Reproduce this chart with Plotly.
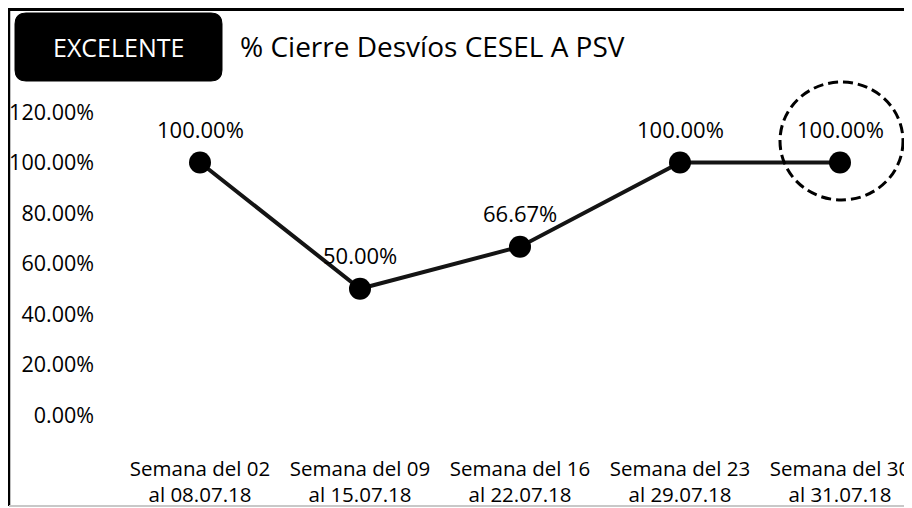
import plotly.graph_objects as go

categories = [
    "Semana del 02<br>al 08.07.18",
    "Semana del 09<br>al 15.07.18",
    "Semana del 16<br>al 22.07.18",
    "Semana del 23<br>al 29.07.18",
    "Semana del 30<br>al 31.07.18",
]
values = [1.0, 0.5, 0.6667, 1.0, 1.0]
y_ticks = [0, 0.2, 0.4, 0.6, 0.8, 1.0, 1.2]
title_text = "% Cierre Desvíos CESEL A PSV"
badge_text = "EXCELENTE"

# page is rendered with the default 8px body margin, so the figure is 904x500
OFF = 8
W, H = 912 - OFF, 508 - OFF
# plot area in page pixel coordinates
L, R, T, B = 120, 912, 112, 415
FONT = "Open Sans, Calibri, Arial, sans-serif"


def px(p):
    return (p - L) / (R - L)


def py(p):
    return (B - p) / (B - T)


fig = go.Figure()
fig.add_trace(go.Scatter(
    x=list(range(len(categories))),
    y=values,
    mode="lines+markers",
    line=dict(color="#141414", width=4),
    marker=dict(color="#000000", size=22),
    hoverinfo="skip",
    showlegend=False,
))

annotations = []
for i, v in enumerate(values):
    annotations.append(dict(
        x=i, y=v, xref="x", yref="y", text=f"{v*100:.2f}%",
        showarrow=False, yshift=34, font=dict(size=22, color="#000", family=FONT),
    ))

annotations.append(dict(
    x=px(118), y=py(47), xref="paper", yref="paper", text=badge_text,
    showarrow=False, font=dict(size=25, color="white", family=FONT),
    xanchor="center", yanchor="middle",
))
annotations.append(dict(
    x=px(238), y=py(46), xref="paper", yref="paper", text=title_text,
    showarrow=False, font=dict(size=28, color="#000", family=FONT),
    xanchor="left", yanchor="middle",
))

# rounded rectangle badge (page pixel coords)
x0, x1, y0, y1, r = 15, 222, 13, 81, 11
path = (
    f"M {px(x0 + r)} {py(y0)} L {px(x1 - r)} {py(y0)} "
    f"Q {px(x1)} {py(y0)} {px(x1)} {py(y0 + r)} "
    f"L {px(x1)} {py(y1 - r)} Q {px(x1)} {py(y1)} {px(x1 - r)} {py(y1)} "
    f"L {px(x0 + r)} {py(y1)} Q {px(x0)} {py(y1)} {px(x0)} {py(y1 - r)} "
    f"L {px(x0)} {py(y0 + r)} Q {px(x0)} {py(y0)} {px(x0 + r)} {py(y0)} Z"
)

shapes = [
    dict(type="path", path=path, xref="paper", yref="paper",
         fillcolor="#000", line=dict(color="#000", width=1), layer="below"),
    dict(type="line", xref="paper", yref="paper", x0=px(9), x1=px(9), y0=py(8), y1=py(506),
         line=dict(color="#000", width=2.5)),
    dict(type="line", xref="paper", yref="paper", x0=px(8), x1=px(912), y0=py(9.5), y1=py(9.5),
         line=dict(color="#000", width=3)),
    dict(type="line", xref="paper", yref="paper", x0=px(9), x1=px(912), y0=py(506), y1=py(506),
         line=dict(color="#c8c8c8", width=2)),
    dict(type="circle", xref="paper", yref="paper", x0=px(780), x1=px(903), y0=py(82), y1=py(200),
         line=dict(color="#000", width=3, dash="10px,5px")),
]

fig.update_layout(
    width=W, height=H,
    margin=dict(l=L - OFF, r=912 - R, t=T - OFF, b=508 - B, pad=0),
    paper_bgcolor="white", plot_bgcolor="white",
    font=dict(family=FONT, size=20, color="#000"),
    xaxis=dict(
        tickmode="array", tickvals=list(range(len(categories))), ticktext=categories,
        range=[-0.5, (R - L) / 160 - 0.5], showgrid=False, zeroline=False, showline=False,
        ticks="", ticklabelstandoff=39, tickfont=dict(size=20.5, family=FONT),
    ),
    yaxis=dict(
        range=[0, 1.2], tickvals=y_ticks, tickformat=".2%", showgrid=False, zeroline=False,
        showline=False, ticks="", ticklabelstandoff=25, tickfont=dict(size=21.5, family=FONT),
    ),
    annotations=annotations,
    shapes=shapes,
)

fig.write_html("out.html")
